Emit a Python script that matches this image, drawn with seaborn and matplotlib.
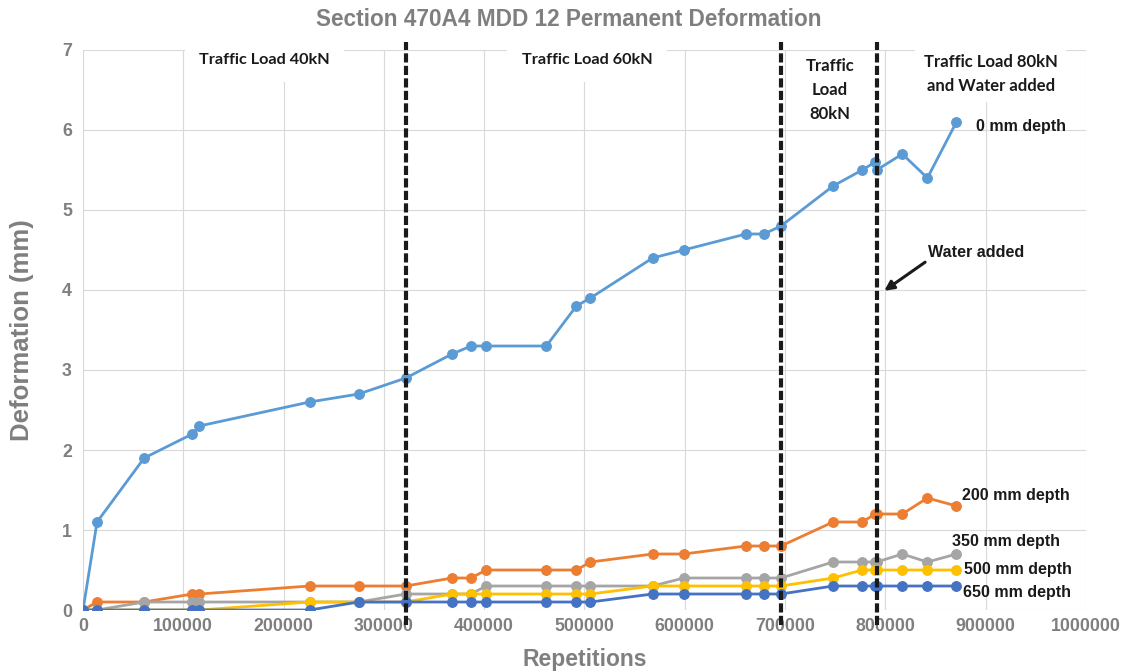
import matplotlib
matplotlib.use('Agg')
import matplotlib.pyplot as plt
import seaborn as sns
import pandas as pd

# Repetitions at each measurement (shared by all depths)
repeticoes = [0, 14000, 61000, 109000, 116000, 226000, 275000, 322000, 368000,
              387000, 402000, 462000, 492000, 506000, 568000, 599000, 661000,
              679000, 696000, 748000, 777000, 790000, 791500, 817000, 842000,
              871000]

prof_0 = [0, 1.1, 1.9, 2.2, 2.3, 2.6, 2.7, 2.9, 3.2, 3.3, 3.3, 3.3, 3.8, 3.9,
          4.4, 4.5, 4.7, 4.7, 4.8, 5.3, 5.5, 5.6, 5.5, 5.7, 5.4, 6.1]
prof_200 = [0, 0.1, 0.1, 0.2, 0.2, 0.3, 0.3, 0.3, 0.4, 0.4, 0.5, 0.5, 0.5, 0.6,
            0.7, 0.7, 0.8, 0.8, 0.8, 1.1, 1.1, 1.2, 1.2, 1.2, 1.4, 1.3]
prof_350 = [0, 0, 0.1, 0.1, 0.1, 0.1, 0.1, 0.2, 0.2, 0.2, 0.3, 0.3, 0.3, 0.3,
            0.3, 0.4, 0.4, 0.4, 0.4, 0.6, 0.6, 0.6, 0.6, 0.7, 0.6, 0.7]
prof_500 = [0, 0, 0, 0, 0, 0.1, 0.1, 0.1, 0.2, 0.2, 0.2, 0.2, 0.2, 0.2,
            0.3, 0.3, 0.3, 0.3, 0.3, 0.4, 0.5, 0.5, 0.5, 0.5, 0.5, 0.5]
prof_650 = [0, 0, 0, 0, 0, 0, 0.1, 0.1, 0.1, 0.1, 0.1, 0.1, 0.1, 0.1,
            0.2, 0.2, 0.2, 0.2, 0.2, 0.3, 0.3, 0.3, 0.3, 0.3, 0.3, 0.3]

rotulos = ['0 mm depth', '200 mm depth', '350 mm depth', '500 mm depth',
           '650 mm depth']
cores = ['#5B9BD5', '#ED7D31', '#A5A5A5', '#FFC000', '#4472C4']

# Mudancas de carga / agua
divisoes = [322000, 696000, 791500]

sns.set_style('whitegrid', {'grid.color': '#D9D9D9'})
plt.rcParams['font.family'] = ['Liberation Sans', 'DejaVu Sans']

fig = plt.figure(figsize=(11.37, 6.71), dpi=100)
ax = fig.add_axes([0.073, 0.0909, 0.882, 0.8346])

series = [prof_0, prof_200, prof_350, prof_500, prof_650]
for i, (vals, cor) in enumerate(zip(series, cores)):
    df = pd.DataFrame({'rep': repeticoes, 'def': vals})
    sns.lineplot(data=df, x='rep', y='def', color=cor, marker='o',
                 markersize=7, markeredgecolor=cor, markeredgewidth=0.8,
                 linewidth=2, sort=False, estimator=None, ax=ax,
                 zorder=3 + i)

for d in divisoes:
    ax.axvline(d, ymin=-0.027, ymax=1.014, color='#1A1A1A', linewidth=3,
               dashes=(2.2, 0.8), clip_on=False, zorder=10)

ax.set_xlim(0, 1000000)
ax.set_ylim(0, 7)
ax.set_xticks(range(0, 1000001, 100000))
ax.set_xticklabels([str(v) for v in range(0, 1000001, 100000)])
ax.set_yticks(range(0, 8))
for s in ax.spines.values():
    s.set_visible(False)
ax.tick_params(axis='both', length=0, labelsize=12.8, labelcolor='#7F7F7F')
for lb in ax.get_xticklabels() + ax.get_yticklabels():
    lb.set_fontweight('bold')
ax.tick_params(axis='x', pad=6)
ax.tick_params(axis='y', pad=8)

ax.set_xlabel('Repetitions', fontsize=16.5, fontweight='bold',
              color='#7F7F7F', labelpad=9)
ax.set_ylabel('Deformation (mm)', fontsize=18.5, fontweight='bold',
              color='#7F7F7F', labelpad=20)
fig.suptitle('Section 470A4 MDD 12 Permanent Deformation', fontsize=16.3,
             fontweight='bold', color='#7F7F7F', y=0.988)

# Caixas de texto das fases de carga
fonte_txt = ['Lato', 'DejaVu Sans']
caixa = dict(facecolor='white', edgecolor='none', boxstyle='square,pad=0.9')
ax.text(181000, 6.87, 'Traffic Load 40kN', ha='center', va='center',
        fontsize=11.7, fontweight='bold', color='#1A1A1A', family=fonte_txt,
        bbox=caixa, zorder=12)
ax.text(503000, 6.87, 'Traffic Load 60kN', ha='center', va='center',
        fontsize=11.7, fontweight='bold', color='#1A1A1A', family=fonte_txt,
        bbox=caixa, zorder=12)
ax.text(745000, 6.5, 'Traffic\nLoad\n80kN', ha='center', va='center',
        fontsize=12, fontweight='bold', color='#1A1A1A', family=fonte_txt,
        linespacing=1.6, zorder=12)
ax.text(905000, 6.7, 'Traffic Load 80kN\nand Water added', ha='center',
        va='center', fontsize=12, fontweight='bold', color='#1A1A1A',
        family=fonte_txt, linespacing=1.6,
        bbox=dict(facecolor='white', edgecolor='none',
                  boxstyle='square,pad=0.5'), zorder=12)

# Rotulos das profundidades
pos_rotulos = [(890000, 6.04), (877000, 1.43), (867000, 0.86),
               (879000, 0.51), (878000, 0.22)]
for (xr, yr), txt in zip(pos_rotulos, rotulos):
    ax.text(xr, yr, txt, ha='left', va='center', fontsize=11.5,
            fontweight='bold', color='#1A1A1A', zorder=12)

ax.annotate('Water added', xy=(799000, 3.99), xytext=(843000, 4.47),
            ha='left', va='center', fontsize=11.6, fontweight='bold',
            color='#1A1A1A', zorder=12,
            arrowprops=dict(arrowstyle='-|>', color='#1A1A1A', lw=2.2,
                            mutation_scale=14, shrinkA=0, shrinkB=0,
                            relpos=(0, 0.0)))

fig.savefig('out.png', dpi=100)
